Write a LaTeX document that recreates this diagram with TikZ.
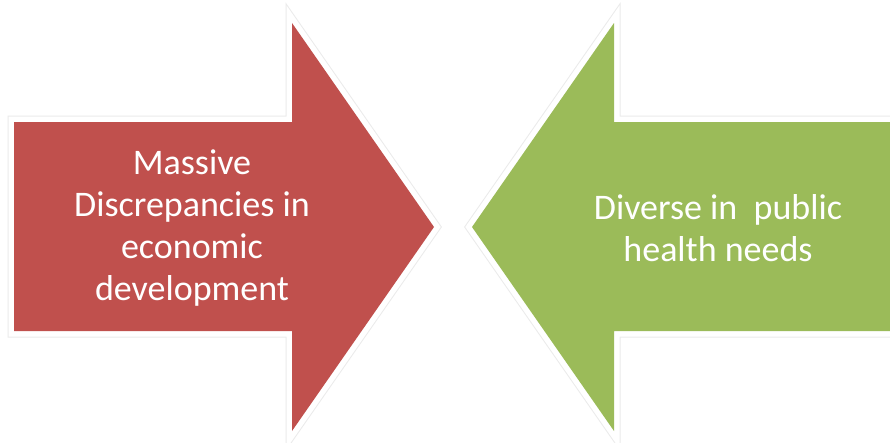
\documentclass[tikz,border=0pt]{standalone}
\usepackage{fontspec}
\setmainfont{Carlito}
\definecolor{offred}{HTML}{C0504D}
\definecolor{offgreen}{HTML}{9BBB59}
\definecolor{glowline}{HTML}{EBEBEB}
\begin{document}
\begin{tikzpicture}[x=1pt,y=-1pt,
  glowouter/.style={draw=glowline,line width=13pt,line join=miter},
  glowinner/.style={draw=white,line width=11pt,line join=miter},
  arrowtext/.style={text=white,align=center,font=\fontsize{36}{42}\selectfont,inner sep=0pt}]
\fill[white] (0,0) rectangle (890,442);
\useasboundingbox (0,0) rectangle (890,442);
% red arrow
\def\redpath{(14,122) -- (292,122) -- (292,23) -- (434,227) -- (292,431) -- (292,331) -- (14,331) -- cycle}
\draw[glowouter] \redpath;
\draw[glowinner] \redpath;
\fill[offred] \redpath;
% green arrow
\def\greenpath{(900,122) -- (614,122) -- (614,23) -- (472,227) -- (614,431) -- (614,331) -- (900,331) -- cycle}
\draw[glowouter] \greenpath;
\draw[glowinner] \greenpath;
\fill[offgreen] \greenpath;
\node[arrowtext] (redtext) at (192,228) {Massive\\Discrepancies in\\economic\\development};
\node[arrowtext] (greentext) at (718,228) {Diverse in\ \ public\\health needs};
\end{tikzpicture}
\end{document}
